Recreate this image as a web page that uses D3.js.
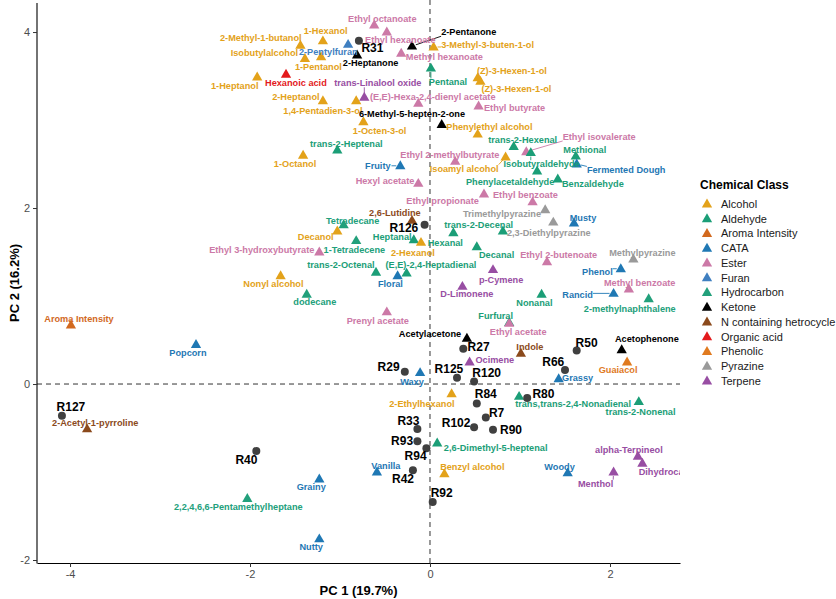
<!DOCTYPE html>
<html>
<head>
<meta charset="utf-8">
<script src="https://cdn.jsdelivr.net/npm/d3@7"></script>
<style>
body { margin: 0; background: #fff; }
text { font-family: "Liberation Sans", Arial, sans-serif; }
</style>
</head>
<body>
<div id="chartid"></div>
<script>
"use strict"

// chemical classes (legend order) + palette
var classNames = ["Alcohol", "Aldehyde", "Aroma Intensity", "CATA", "Ester", "Furan", "Hydrocarbon",
  "Ketone", "N containing hetrocycle", "Organic acid", "Phenolic", "Pyrazine", "Terpene"];
var classColors = ["#E3A21A", "#1B9E77", "#D2691E", "#1F78B4", "#CC79A7", "#3F7FC0", "#22A07B",
  "#000000", "#8B4A1C", "#E31A1C", "#E07A1F", "#9A9A9A", "#984EA3"];

// samples (score points)
var sampleNames = ["R31", "R126", "R29", "R125", "R27", "R120", "R50", "R66", "R127", "R40",
  "R33", "R93", "R94", "R42", "R92", "R102", "R84", "R7", "R90", "R80"];
var sampleX = [-0.79, -0.06, -0.28, 0.30, 0.37, 0.49, 1.63, 1.50, -4.09, -1.93,
  -0.14, -0.14, -0.04, -0.19, 0.03, 0.49, 0.52, 0.62, 0.70, 1.08];
var sampleY = [3.90, 1.81, 0.14, 0.07, 0.40, 0.03, 0.38, 0.16, -0.36, -0.76,
  -0.51, -0.65, -0.73, -0.98, -1.34, -0.49, -0.22, -0.38, -0.52, -0.16];
var sampleLabelX = [-0.64, -0.29, -0.46, 0.21, 0.54, 0.63, 1.74, 1.37, -3.99, -2.04,
  -0.24, -0.31, -0.16, -0.30, 0.13, 0.29, 0.62, 0.74, 0.90, 1.26];
var sampleLabelY = [3.82, 1.77, 0.19, 0.17, 0.42, 0.13, 0.47, 0.25, -0.26, -0.86,
  -0.42, -0.65, -0.82, -1.08, -1.24, -0.44, -0.11, -0.33, -0.52, -0.11];

// variables (loadings)
var varNames = ["Ethyl octanoate", "Ethyl hexanoate", "1-Hexanol", "2-Methyl-1-butanol", "2-Pentylfuran",
  "Isobutylalcohol", "1-Pentanol", "2-Heptanone", "2-Pentanone", "Methyl hexanoate",
  "3-Methyl-3-buten-1-ol", "Hexanoic acid", "1-Heptanol", "Pentanal", "trans-Linalool oxide",
  "2-Heptanol", "1,4-Pentadien-3-ol", "(E,E)-Hexa-2,4-dienyl acetate", "(Z)-3-Hexen-1-ol", "(Z)-3-Hexen-1-ol",
  "Ethyl butyrate", "6-Methyl-5-hepten-2-one", "Phenylethyl alcohol", "1-Octen-3-ol", "trans-2-Heptenal",
  "1-Octanol", "Fruity", "Hexyl acetate", "Ethyl 2-methylbutyrate", "Isoamyl alcohol",
  "trans-2-Hexenal", "Ethyl isovalerate", "Isobutyraldehyde", "Methional", "Fermented Dough",
  "Phenylacetaldehyde", "Benzaldehyde", "Ethyl propionate", "Ethyl benzoate", "Trimethylpyrazine",
  "2,3-Diethylpyrazine", "Musty", "2,6-Lutidine", "Tetradecane", "Decanol",
  "Heptanal", "2-Hexanol", "Hexanal", "trans-2-Decenal", "Ethyl 3-hydroxybutyrate",
  "1-Tetradecene", "trans-2-Octenal", "(E,E)-2,4-heptadienal", "Floral", "Nonyl alcohol",
  "dodecane", "Prenyl acetate", "Acetylacetone", "Waxy", "D-Limonene",
  "p-Cymene", "Decanal", "Ethyl 2-butenoate", "Methylpyrazine", "Phenol",
  "Methyl benzoate", "Rancid", "2-methylnaphthalene", "Nonanal", "Furfural",
  "Ethyl acetate", "Indole", "Ocimene", "Acetophenone", "Guaiacol",
  "Grassy", "Aroma Intensity", "Popcorn", "2-Acetyl-1-pyrroline", "2,2,4,6,6-Pentamethylheptane",
  "Grainy", "Nutty", "Vanilla", "2,6-Dimethyl-5-heptenal", "Benzyl alcohol",
  "2-Ethylhexanol", "trans,trans-2,4-Nonadienal", "trans-2-Nonenal", "Woody", "Menthol",
  "alpha-Terpineol", "Dihydrocarveol"];
var varClass = ["Ester", "Ester", "Alcohol", "Alcohol", "Furan",
  "Alcohol", "Alcohol", "Ketone", "Ketone", "Ester",
  "Alcohol", "Organic acid", "Alcohol", "Aldehyde", "Terpene",
  "Alcohol", "Alcohol", "Ester", "Alcohol", "Alcohol",
  "Ester", "Ketone", "Alcohol", "Alcohol", "Aldehyde",
  "Alcohol", "CATA", "Ester", "Ester", "Alcohol",
  "Aldehyde", "Ester", "Aldehyde", "Aldehyde", "CATA",
  "Aldehyde", "Aldehyde", "Ester", "Ester", "Pyrazine",
  "Pyrazine", "CATA", "N containing hetrocycle", "Hydrocarbon", "Alcohol",
  "Aldehyde", "Alcohol", "Aldehyde", "Aldehyde", "Ester",
  "Hydrocarbon", "Aldehyde", "Aldehyde", "CATA", "Alcohol",
  "Hydrocarbon", "Ester", "Ketone", "CATA", "Terpene",
  "Terpene", "Aldehyde", "Ester", "Pyrazine", "CATA",
  "Ester", "CATA", "Hydrocarbon", "Aldehyde", "Aldehyde",
  "Ester", "N containing hetrocycle", "Terpene", "Ketone", "Phenolic",
  "CATA", "Aroma Intensity", "CATA", "N containing hetrocycle", "Hydrocarbon",
  "CATA", "CATA", "CATA", "Aldehyde", "Alcohol",
  "Alcohol", "Aldehyde", "Aldehyde", "CATA", "Terpene",
  "Terpene", "Terpene"];
var varX = [-0.62, -0.48, -1.19, -1.44, -0.91,
  -1.39, -1.21, -0.81, -0.20, -0.32,
  0.04, -1.60, -1.92, 0.01, -0.73,
  -1.19, -0.82, -0.13, 0.53, 0.56,
  0.54, 0.13, 0.53, -0.74, -1.03,
  -1.41, -0.33, -0.13, 0.28, 0.84,
  0.93, 1.07, 1.12, 1.62, 1.63,
  1.19, 1.42, 0.60, 1.14, 1.28,
  1.37, 1.60, -0.20, -0.96, -1.03,
  -0.18, -0.10, 0.26, 0.81, -1.23,
  -0.82, -0.60, -0.26, -0.36, -1.66,
  -1.37, -0.48, 0.41, -0.11, 0.36,
  0.70, 0.52, 1.30, 2.26, 2.12,
  2.21, 2.04, 2.43, 1.24, 0.88,
  0.88, 1.01, 0.44, 2.13, 2.19,
  1.43, -3.99, -2.60, -3.81, -2.03,
  -1.23, -1.23, -0.59, 0.08, 0.16,
  0.24, 0.99, 2.32, 1.53, 2.04,
  2.31, 2.36];
var varY = [4.08, 4.00, 3.90, 3.85, 3.86,
  3.70, 3.72, 3.74, 3.84, 3.76,
  3.83, 3.52, 3.49, 3.59, 3.26,
  3.22, 3.22, 3.19, 3.48, 3.44,
  3.16, 2.95, 2.84, 2.98, 2.66,
  2.60, 2.48, 2.28, 2.53, 2.58,
  2.70, 2.64, 2.63, 2.59, 2.50,
  2.42, 2.33, 2.16, 2.07, 1.98,
  1.84, 1.83, 1.86, 1.81, 1.74,
  1.64, 1.61, 1.72, 1.74, 1.50,
  1.63, 1.27, 1.26, 1.23, 1.23,
  1.02, 0.82, 0.52, 0.13, 1.11,
  1.30, 1.56, 1.39, 1.42, 1.31,
  1.08, 1.03, 0.97, 1.02, 0.70,
  0.69, 0.35, 0.25, 0.39, 0.25,
  0.06, 0.67, 0.45, -0.51, -1.30,
  -1.08, -1.76, -1.00, -0.67, -1.02,
  -0.11, -0.14, -0.20, -1.01, -1.00,
  -0.82, -0.90];
var varLabelX = [-0.53, -0.33, -1.16, -1.88, -1.13,
  -1.84, -1.24, -0.66, 0.43, 0.16,
  0.64, -1.49, -2.17, 0.20, -0.58,
  -1.49, -1.19, 0.03, 0.91, 0.96,
  0.94, -0.20, 0.66, -0.56, -0.93,
  -1.50, -0.58, -0.50, 0.22, 0.38,
  1.03, 1.88, 1.24, 1.72, 2.18,
  0.89, 1.81, 0.14, 1.06, 0.80,
  1.32, 1.70, -0.39, -0.86, -1.27,
  -0.42, -0.19, 0.17, 0.54, -1.87,
  -0.84, -0.99, 0.01, -0.44, -1.74,
  -1.28, -0.58, 0.00, -0.20, 0.41,
  0.79, 0.74, 1.43, 2.36, 1.86,
  2.33, 1.64, 2.22, 1.16, 0.73,
  0.98, 1.11, 0.72, 2.41, 2.09,
  1.64, -3.90, -2.69, -3.72, -2.13,
  -1.32, -1.32, -0.49, 0.73, 0.47,
  -0.09, 1.59, 2.34, 1.44, 1.84,
  2.21, 2.69];
var varLabelY = [4.15, 3.91, 4.01, 3.93, 3.77,
  3.76, 3.60, 3.65, 4.00, 3.72,
  3.85, 3.42, 3.39, 3.43, 3.42,
  3.26, 3.11, 3.26, 3.56, 3.35,
  3.14, 3.07, 2.92, 2.88, 2.73,
  2.50, 2.48, 2.31, 2.61, 2.45,
  2.77, 2.81, 2.50, 2.66, 2.43,
  2.30, 2.28, 2.08, 2.15, 1.93,
  1.72, 1.89, 1.95, 1.86, 1.67,
  1.67, 1.49, 1.61, 1.81, 1.52,
  1.52, 1.35, 1.35, 1.14, 1.14,
  0.93, 0.72, 0.57, 0.02, 1.02,
  1.19, 1.47, 1.47, 1.49, 1.28,
  1.15, 1.01, 0.86, 0.92, 0.77,
  0.59, 0.42, 0.27, 0.51, 0.16,
  0.07, 0.74, 0.35, -0.44, -1.40,
  -1.17, -1.85, -0.93, -0.72, -0.94,
  -0.22, -0.23, -0.31, -0.94, -1.13,
  -0.75, -1.00];

var xTicks = [-4, -2, 0, 2];
var yTicks = [-2, 0, 2, 4];

function createChart(){
  var svg = d3.select("#chartid").append("svg")
    .attr("width", 836)
    .attr("height", 599);

  var margin = { top: 3, right: 156, bottom: 36, left: 37 },
    width = 836 - margin.left - margin.right,
    height = 599 - margin.top - margin.bottom;

  var x = d3.scaleLinear().domain([-4.367, 2.778]).range([margin.left, margin.left + width]);
  var y = d3.scaleLinear().domain([-2.034, 4.33]).range([margin.top + height, margin.top]);
  var colour = d3.scaleOrdinal().domain(classNames).range(classColors);

  svg.append("clipPath").attr("id", "panel")
    .append("rect")
    .attr("x", margin.left).attr("y", 0)
    .attr("width", width).attr("height", margin.top + height);

  // zero lines
  svg.append("line")
    .attr("x1", x(0)).attr("x2", x(0))
    .attr("y1", 0).attr("y2", margin.top + height)
    .attr("stroke", "#333").attr("stroke-width", 1).attr("stroke-dasharray", "5,4");
  svg.append("line")
    .attr("x1", margin.left).attr("x2", margin.left + width)
    .attr("y1", y(0)).attr("y2", y(0))
    .attr("stroke", "#333").attr("stroke-width", 1).attr("stroke-dasharray", "5,4");

  // axes (plain hyphen minus like the original)
  var fmt = function(d){ return String(d); };
  var gx = svg.append("g")
    .attr("transform", "translate(0," + (margin.top + height) + ")")
    .call(d3.axisBottom(x).tickValues(xTicks).tickFormat(fmt).tickSize(4).tickSizeOuter(0).tickPadding(3));
  var gy = svg.append("g")
    .attr("transform", "translate(" + margin.left + ",0)")
    .call(d3.axisLeft(y).tickValues(yTicks).tickFormat(fmt).tickSize(4).tickSizeOuter(0).tickPadding(3));
  [gx, gy].forEach(function(g){
    g.select(".domain").attr("stroke", "#000").attr("stroke-width", 1.1);
    g.selectAll(".tick line").attr("stroke", "#333");
    g.selectAll(".tick text").attr("fill", "#4D4D4D").attr("font-size", 11)
      .style("font-family", "'Liberation Sans', Arial, sans-serif");
  });
  gy.select(".domain").attr("d", "M0," + margin.top + "V" + (margin.top + height + 0.5));

  svg.append("text")
    .attr("x", margin.left + width / 2).attr("y", 595)
    .attr("text-anchor", "middle").attr("font-size", 13).attr("font-weight", "bold")
    .text("PC 1 (19.7%)");
  svg.append("text")
    .attr("transform", "translate(19," + (margin.top + height / 2) + ") rotate(-90)")
    .attr("text-anchor", "middle").attr("font-size", 13).attr("font-weight", "bold")
    .text("PC 2 (16.2%)");

  var panel = svg.append("g").attr("clip-path", "url(#panel)");
  var tri = d3.symbol().type(d3.symbolTriangle).size(46);

  var vars = varNames.map(function(n, i){
    return { name: n, cls: varClass[i], x: varX[i], y: varY[i], lx: varLabelX[i], ly: varLabelY[i] };
  });
  var samples = sampleNames.map(function(n, i){
    return { name: n, x: sampleX[i], y: sampleY[i], lx: sampleLabelX[i], ly: sampleLabelY[i] };
  });

  var segLayer = panel.append("g");

  panel.selectAll("path.var").data(vars).enter().append("path")
    .attr("class", "var")
    .attr("d", tri)
    .attr("transform", function(d){ return "translate(" + x(d.x) + "," + (y(d.y) + 0.5) + ")"; })
    .attr("fill", function(d){ return colour(d.cls); });

  panel.selectAll("circle.smp").data(samples).enter().append("circle")
    .attr("class", "smp")
    .attr("cx", function(d){ return x(d.x); })
    .attr("cy", function(d){ return y(d.y); })
    .attr("r", 4)
    .attr("fill", "#404040");

  var varLabels = panel.selectAll("text.vl").data(vars).enter().append("text")
    .attr("class", "vl")
    .attr("x", function(d){ return x(d.lx); })
    .attr("y", function(d){ return y(d.ly); })
    .attr("dy", "0.35em")
    .attr("text-anchor", "middle")
    .attr("font-size", 9.2).attr("font-weight", "bold")
    .attr("fill", function(d){ return colour(d.cls); })
    .text(function(d){ return d.name; });

  panel.selectAll("text.sl").data(samples).enter().append("text")
    .attr("class", "sl")
    .attr("x", function(d){ return x(d.lx); })
    .attr("y", function(d){ return y(d.ly); })
    .attr("dy", "0.35em")
    .attr("text-anchor", "middle")
    .attr("font-size", 12).attr("font-weight", "bold")
    .attr("fill", "#000")
    .text(function(d){ return d.name; });

  // repel-style segments from label box to its point
  varLabels.each(function(d){
    var b = this.getBBox();
    var px = x(d.x), py = y(d.y);
    var qx = Math.max(b.x, Math.min(px, b.x + b.width));
    var qy = Math.max(b.y + 1, Math.min(py, b.y + b.height - 1));
    var dist = Math.hypot(px - qx, py - qy);
    if (dist > 7) {
      var k = 4 / dist;
      segLayer.append("line")
        .attr("x1", px + (qx - px) * k).attr("y1", py + (qy - py) * k)
        .attr("x2", qx).attr("y2", qy)
        .attr("stroke", colour(d.cls)).attr("stroke-width", 0.9);
    }
  });

  // legend
  var legend = svg.append("g").attr("transform", "translate(700,185)");
  legend.append("text")
    .attr("x", 0).attr("y", 0).attr("dy", "0.35em")
    .attr("font-size", 12).attr("font-weight", "bold")
    .text("Chemical Class");
  var item = legend.selectAll("g.item").data(classNames).enter().append("g")
    .attr("class", "item")
    .attr("transform", function(d, i){ return "translate(0," + (19 + i * 14.75) + ")"; });
  item.append("path")
    .attr("d", tri)
    .attr("transform", "translate(7,0.5)")
    .attr("fill", function(d){ return colour(d); });
  item.append("text")
    .attr("x", 21).attr("dy", "0.35em")
    .attr("font-size", 11).attr("fill", "#1a1a1a")
    .text(function(d){ return d; });
}

createChart();
</script>
</body>
</html>
